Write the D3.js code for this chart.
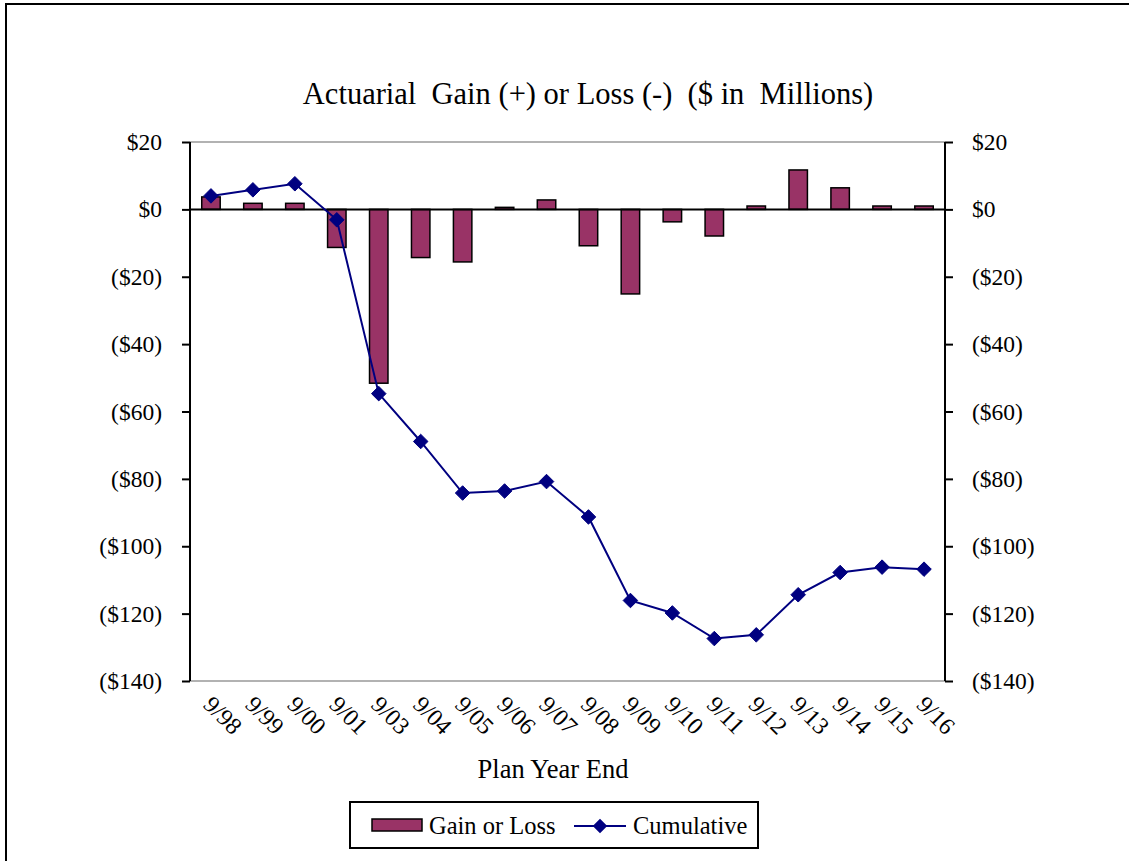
<!DOCTYPE html>
<html>
<head>
<meta charset="utf-8">
<script src="https://cdn.jsdelivr.net/npm/d3@7/dist/d3.min.js"></script>
<style>
  html, body { margin: 0; padding: 0; background: #fff; }
  svg { display: block; }
  text { font-family: "Liberation Serif", "Times New Roman", serif; fill: #000; }
</style>
</head>
<body>
<svg id="chart" width="1129" height="861"></svg>
<script>
// Plan year ends
const years = ["9/98","9/99","9/00","9/01","9/03","9/04","9/05","9/06","9/07","9/08",
               "9/09","9/10","9/11","9/12","9/13","9/14","9/15","9/16"];
// Annual actuarial gain (+) or loss (-), $ millions
const gainLoss = [3.7, 1.8, 1.8, -11.3, -51.6, -14.3, -15.6, 0.6, 2.8, -10.8,
                  -25.1, -3.7, -7.9, 1.0, 11.7, 6.4, 1.0, 1.0];
// Cumulative gain (+) or loss (-), $ millions
const cumulative = [4.0, 5.8, 7.6, -3.1, -54.7, -68.9, -84.2, -83.6, -80.8, -91.3,
                    -116.1, -119.8, -127.4, -126.3, -114.4, -107.8, -106.2, -106.8];
// Value axis ticks
const yTicks = [20, 0, -20, -40, -60, -80, -100, -120, -140];

const svg = d3.select("#chart");

// outer chart frame
svg.append("rect")
  .attr("x", 6).attr("y", 4).attr("width", 1200).attr("height", 1000)
  .attr("fill", "none").attr("stroke", "#000").attr("stroke-width", 2);

const plot = { left: 190, right: 945, top: 142, bottom: 681 };

const x = d3.scaleBand().domain(years).range([plot.left, plot.right]).paddingInner(0).paddingOuter(0);
const y = d3.scaleLinear().domain([-140, 20]).range([plot.bottom, plot.top]);

const fmt = v => v < 0 ? `($${Math.abs(v)})` : `$${v}`;

// plot area border (grey top/bottom)
svg.append("line").attr("x1", plot.left).attr("x2", plot.right)
  .attr("y1", plot.top).attr("y2", plot.top).attr("stroke", "#999").attr("stroke-width", 1.5);
svg.append("line").attr("x1", plot.left).attr("x2", plot.right)
  .attr("y1", plot.bottom).attr("y2", plot.bottom).attr("stroke", "#999").attr("stroke-width", 1.5);

// bars
const bw = x.bandwidth() * 0.44;
svg.append("g").selectAll("rect").data(years).join("rect")
  .attr("x", (d) => x(d) + x.bandwidth() / 2 - bw / 2)
  .attr("width", bw)
  .attr("y", (d, i) => Math.min(y(gainLoss[i]), y(0)))
  .attr("height", (d, i) => Math.abs(y(gainLoss[i]) - y(0)))
  .attr("fill", "#993366").attr("stroke", "#000").attr("stroke-width", 1.5);

// left axis
const leftAxis = d3.axisLeft(y).tickValues(yTicks).tickFormat(fmt).tickSize(8).tickPadding(20);
const gL = svg.append("g").attr("transform", `translate(${plot.left},0)`).call(leftAxis);
// right axis
const rightAxis = d3.axisRight(y).tickValues(yTicks).tickFormat(fmt).tickSize(8).tickPadding(19);
const gR = svg.append("g").attr("transform", `translate(${plot.right},0)`).call(rightAxis);
[gL, gR].forEach(g => {
  g.select(".domain").attr("stroke", "#000").attr("stroke-width", 2).attr("d",
    `M0,${plot.top}V${plot.bottom}`);
  g.selectAll(".tick line").attr("stroke", "#000").attr("stroke-width", 2);
  g.selectAll(".tick text").style("font-family", '"Liberation Serif", serif')
    .style("font-size", "23.5px").attr("fill", "#000");
});

// zero line
svg.append("line").attr("x1", plot.left).attr("x2", plot.right)
  .attr("y1", y(0)).attr("y2", y(0)).attr("stroke", "#000").attr("stroke-width", 2);

// cumulative line
const line = d3.line()
  .x((d, i) => x(years[i]) + x.bandwidth() / 2)
  .y(d => y(d));
svg.append("path").datum(cumulative)
  .attr("d", line).attr("fill", "none").attr("stroke", "#000080").attr("stroke-width", 2);

const diamond = d3.symbol().type(d3.symbolDiamond2).size(135);
svg.append("g").selectAll("path").data(cumulative).join("path")
  .attr("transform", (d, i) => `translate(${x(years[i]) + x.bandwidth() / 2},${y(d)})`)
  .attr("d", diamond).attr("fill", "#000080").attr("stroke", "#000080").attr("stroke-width", 1);

// category labels, rotated
svg.append("g").selectAll("text").data(years).join("text")
  .attr("transform", d => `translate(${x(d) + x.bandwidth() / 2 - 5},${plot.bottom + 21}) rotate(45)`)
  .attr("text-anchor", "start")
  .attr("dominant-baseline", "middle")
  .style("font-size", "24px")
  .text(d => d);

// title
svg.append("text").attr("x", 588).attr("y", 104).attr("text-anchor", "middle")
  .style("font-size", "30.5px").style("white-space", "pre")
  .attr("xml:space", "preserve")
  .text("Actuarial  Gain (+) or Loss (-)  ($ in  Millions)");

// axis title
svg.append("text").attr("x", 553).attr("y", 778).attr("text-anchor", "middle")
  .style("font-size", "26.5px").text("Plan Year End");

// legend
const lg = svg.append("g");
lg.append("rect").attr("x", 350).attr("y", 802).attr("width", 408).attr("height", 46)
  .attr("fill", "#fff").attr("stroke", "#000").attr("stroke-width", 2);
lg.append("rect").attr("x", 372).attr("y", 819).attr("width", 50).attr("height", 12)
  .attr("fill", "#993366").attr("stroke", "#000").attr("stroke-width", 1.5);
lg.append("text").attr("x", 429).attr("y", 834).style("font-size", "24.5px").text("Gain or Loss");
lg.append("line").attr("x1", 574).attr("x2", 626).attr("y1", 826).attr("y2", 826)
  .attr("stroke", "#000080").attr("stroke-width", 2);
lg.append("path").attr("transform", "translate(600,826)").attr("d", diamond).attr("fill", "#000080");
lg.append("text").attr("x", 633).attr("y", 834).style("font-size", "24.5px").text("Cumulative");
</script>
</body>
</html>
